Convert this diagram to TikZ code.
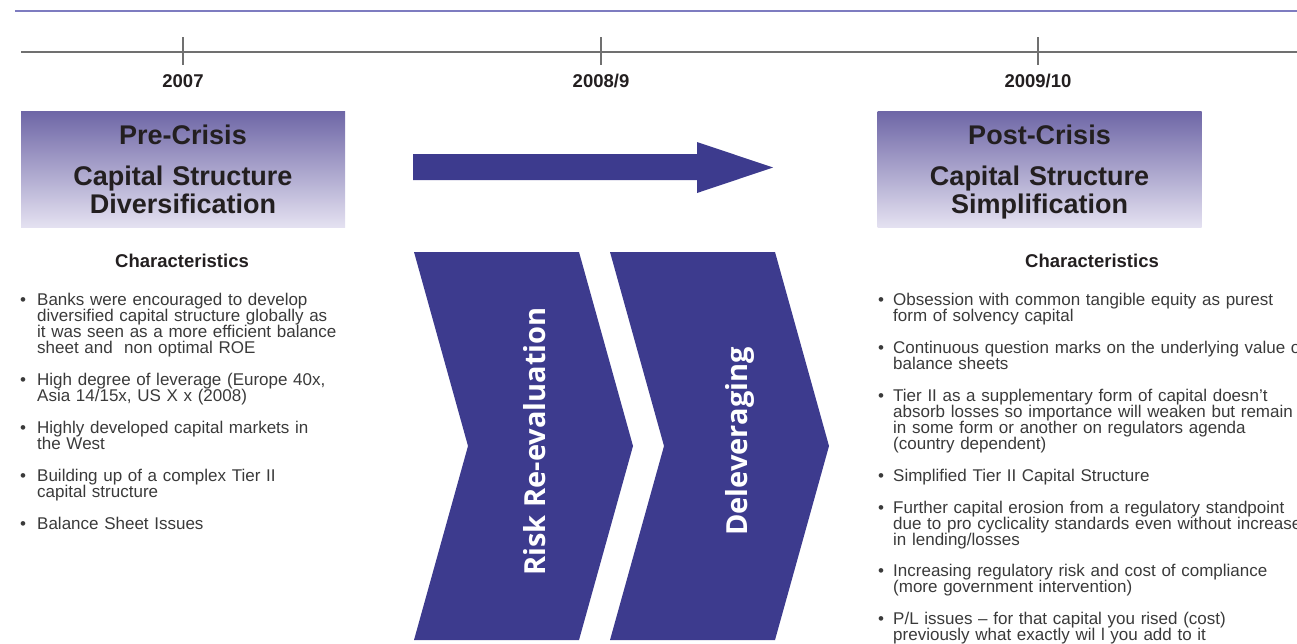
\documentclass[tikz,border=0pt]{standalone}
\usepackage{fontspec}
\setmainfont{Liberation Sans}
\newfontfamily\chevfont{Open Sans}
\definecolor{navy}{HTML}{3D3B8E}
\definecolor{lilac}{HTML}{7E7CC0}
\definecolor{boxtop}{HTML}{6E66A6}
\definecolor{boxbot}{HTML}{E4E1F1}
\definecolor{ink}{HTML}{231F20}
\definecolor{bodyink}{HTML}{3A3A3A}
\definecolor{rulegrey}{HTML}{707070}
\tikzset{
  topline/.style={draw=lilac, line width=2pt},
  timeline/.style={draw=rulegrey, line width=1.8pt},
  tick/.style={draw=rulegrey, line width=2.4pt},
  year/.style={font=\fontsize{18.5}{20}\selectfont\bfseries, text=ink, inner sep=0, anchor=base},
  cbox/.style={top color=boxtop, bottom color=boxbot, draw=none, minimum width=324pt, minimum height=116pt, inner sep=0},
  boxtitle/.style={font=\fontsize{27}{28}\selectfont\bfseries, text=ink, inner sep=0, anchor=base, align=center, text width=320pt},
  charhead/.style={font=\fontsize{18.5}{20}\selectfont\bfseries, text=ink, inner sep=0, anchor=base},
  item/.style={font=\fontsize{17}{16}\selectfont, text=bodyink, inner sep=0, anchor=base west, align=left, text width=440pt},
  bul/.style={font=\fontsize{17}{16}\selectfont, text=bodyink, inner sep=0, anchor=base},
  shape fill/.style={fill=navy, draw=none},
  chevtext/.style={font=\chevfont\bfseries\fontsize{29}{30}\selectfont, text=white, inner sep=0, rotate=90, anchor=base}
}
\begin{document}
\begin{tikzpicture}[x=1pt,y=-1pt]
\useasboundingbox (0,0) rectangle (1297,643);
\clip (0,0) rectangle (1297,643);

% top rule
\coordinate (topL) at (15,11);
\coordinate (topR) at (1297,11);
\draw[topline] (topL) -- (topR);

% timeline
\coordinate (tlL) at (21,52);
\coordinate (tlR) at (1297,52);
\draw[timeline] (tlL) -- (tlR);
\foreach \n/\x in {a/183,b/601,c/1038}{
  \coordinate (tick\n top) at (\x,37);
  \coordinate (tick\n bot) at (\x,65);
  \draw[tick] (tick\n top) -- (tick\n bot);
}
\node[year] (y1) at (183,87) {2007};
\node[year] (y2) at (601,87) {2008/9};
\node[year] (y3) at (1038,87) {2009/10};

% boxes
\node[cbox] (prebox) at (183,169) {};
\node[boxtitle] (preA) at (183,144) {Pre-Crisis};
\node[boxtitle] (preB) at (183,185) {Capital Structure\\Diversification};
\node[cbox] (postbox) at (1039.5,169) {};
\node[boxtitle] (postA) at (1039.5,144) {Post-Crisis};
\node[boxtitle] (postB) at (1039.5,185) {Capital Structure\\Simplification};

% big arrow
\fill[shape fill] (413,154) -- (697,154) -- (697,142) -- (773,167.5) -- (697,193) -- (697,180) -- (413,180) -- cycle;

% chevrons
\fill[shape fill] (414,252) -- (579,252) -- (633,446) -- (579,640) -- (414,640) -- (468,446) -- cycle;
\fill[shape fill] (610,252) -- (775,252) -- (829,446) -- (775,640) -- (610,640) -- (664,446) -- cycle;
\node[chevtext] (risk) at (545,441.5) {Risk Re-evaluation};
\node[chevtext] (delev) at (747,441.5) {Deleveraging};

% headings
\node[charhead] (hl) at (182,267) {Characteristics};
\node[charhead] (hr) at (1092,267) {Characteristics};

% left bullets
\foreach \y in {305,385,433,481,529}{\node[bul] at (23,\y) {\textbullet};}
\node[item] (l1) at (37,305) {Banks were encouraged to develop\\diversified capital structure globally as\\it was seen as a more efficient balance\\sheet and\ \ non optimal ROE};
\node[item] (l2) at (37,385) {High degree of leverage (Europe 40x,\\Asia 14/15x, US X x (2008)};
\node[item] (l3) at (37,433) {Highly developed capital markets in\\the West};
\node[item] (l4) at (37,481) {Building up of a complex Tier II\\capital structure};
\node[item] (l5) at (37,529) {Balance Sheet Issues};

% right bullets
\foreach \y in {305,353,401,481,513,576,624}{\node[bul] at (881,\y) {\textbullet};}
\node[item] (r1) at (893,305) {Obsession with common tangible equity as purest\\form of solvency capital};
\node[item] (r2) at (893,353) {Continuous question marks on the underlying value of\\balance sheets};
\node[item] (r3) at (893,401) {Tier II as a supplementary form of capital doesn’t\\absorb losses so importance will weaken but remain\\in some form or another on regulators agenda\\(country dependent)};
\node[item] (r4) at (893,481) {Simplified Tier II Capital Structure};
\node[item] (r5) at (893,513) {Further capital erosion from a regulatory standpoint\\due to pro cyclicality standards even without increase\\in lending/losses};
\node[item] (r6) at (893,576) {Increasing regulatory risk and cost of compliance\\(more government intervention)};
\node[item] (r7) at (893,624) {P/L issues – for that capital you rised (cost)\\previously what exactly wil l you add to it};
\end{tikzpicture}
\end{document}
